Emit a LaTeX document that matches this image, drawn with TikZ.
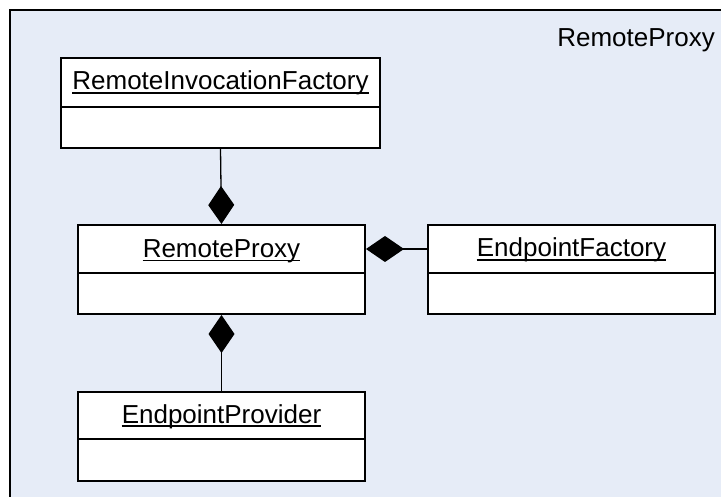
\documentclass[tikz,border=0pt]{standalone}
\usepackage{fontspec}
\setmainfont{Liberation Sans}
\usetikzlibrary{arrows.meta}
\definecolor{framefill}{RGB}{230,236,247}
\tikzset{
  classpart/.style={draw=black, line width=2pt, fill=white, minimum width=#1, inner sep=0pt},
  classname/.style={anchor=base, inner sep=0pt, font=\fontsize{26}{31}\selectfont},
  uline/.style={line width=1.4pt},
  comp/.style={line width=1.3pt, -{Diamond[length=38pt, width=26pt, fill=black]}},
  framelabel/.style={anchor=base east, inner sep=0pt, font=\fontsize{26}{31}\selectfont}
}
\begin{document}
\begin{tikzpicture}[x=1pt, y=-1pt]
\useasboundingbox (0,0) rectangle (721,497);
% package frame
\fill[framefill] (10,10) rectangle (721,497);
\draw[line width=2pt] (10,497) -- (10,10) -- (721,10);
\node[framelabel] (pkg) at (715,47) {RemoteProxy};

% RemoteInvocationFactory
\node[classpart=319pt, minimum height=49pt] (rifH) at (220.5,82.5) {};
\node[classpart=319pt, minimum height=41pt] (rifB) at (220.5,127.5) {};
\node[classname] (rifT) at (220.5,90) {RemoteInvocationFactory};

% RemoteProxy
\node[classpart=287pt, minimum height=48pt] (rpH) at (221.5,249) {};
\node[classpart=287pt, minimum height=41pt] (rpB) at (221.5,293.5) {};
\node[classname] (rpT) at (221.5,257.5) {RemoteProxy};

% EndpointFactory
\node[classpart=287pt, minimum height=48pt] (efH) at (571.5,249) {};
\node[classpart=287pt, minimum height=41pt] (efB) at (571.5,293.5) {};
\node[classname] (efT) at (571.5,257) {EndpointFactory};

% EndpointProvider
\node[classpart=287pt, minimum height=47pt] (epH) at (221.5,415.5) {};
\node[classpart=287pt, minimum height=42pt] (epB) at (221.5,460) {};
\node[classname] (epT) at (221.5,423) {EndpointProvider};

% underlines
\foreach \t in {rifT,rpT,efT,epT}{
  \draw[uline] ([yshift=-3pt]\t.base west) -- ([yshift=-3pt]\t.base east);
}

% composition connectors
\draw[comp] (rifB.south) -- (rpH.north);
\draw[comp] (epH.north) -- (rpB.south);
\draw[comp] (efH.west) -- (rpH.east);
\end{tikzpicture}
\end{document}
